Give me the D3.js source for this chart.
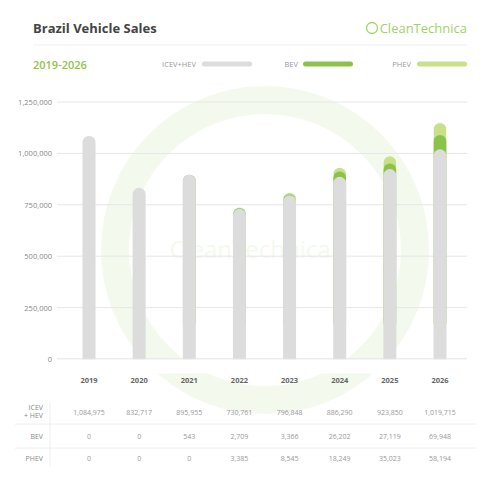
<!DOCTYPE html><html><head><meta charset="utf-8">
<script src="https://cdn.jsdelivr.net/npm/d3@7"></script>
<style>body{margin:0;background:#fff}svg{font-family:"Open Sans",sans-serif}</style></head><body>
<script>
const years=["2019","2020","2021","2022","2023","2024","2025","2026"];
const icev=[1084975,832717,895955,730761,796848,886290,923850,1019715];
const bev=[0,0,543,2709,3366,26202,27119,69948];
const phev=[0,0,0,3385,8545,18249,35023,58194];
const yTicks=[0,250000,500000,750000,1000000,1250000];
const colors={icev:"#dcdcdc",bev:"#8bc34a",phev:"#c8e08a"};
const svg=d3.select("body").append("svg").attr("width",500).attr("height",500);
const wm=svg.append("g").attr("opacity",0.09);
wm.append("circle").attr("cx",265).attr("cy",250).attr("r",150).attr("fill","none").attr("stroke","#8bc34a").attr("stroke-width",28);
wm.append("text").attr("x",250).attr("y",258).attr("text-anchor","middle").attr("font-size",24).attr("fill","#8bc34a").text("CleanTechnica");
svg.append("text").attr("x",33).attr("y",33).attr("font-size",13).attr("font-weight",700).attr("fill","#444").text("Brazil Vehicle Sales");
svg.append("text").attr("x",467).attr("y",33).attr("text-anchor","end").attr("font-size",13).attr("fill","#9fd26a").text("CleanTechnica");
svg.append("circle").attr("cx",372).attr("cy",28).attr("r",5.5).attr("fill","none").attr("stroke","#9fd26a").attr("stroke-width",1.3);
svg.append("line").attr("x1",33).attr("x2",467).attr("y1",45).attr("y2",45).attr("stroke","#eee");
svg.append("text").attr("x",33).attr("y",69).attr("font-size",11).attr("font-weight",600).attr("fill","#8dc63f").text("2019-2026");
const leg=[["ICEV+HEV",196,202,colors.icev],["BEV",298,303,colors.bev],["PHEV",411,417,colors.phev]];
leg.forEach(l=>{svg.append("text").attr("x",l[1]).attr("y",67).attr("text-anchor","end").attr("font-size",7.5).attr("fill","#999").text(l[0]);
svg.append("rect").attr("x",l[2]).attr("y",61.5).attr("width",50).attr("height",5).attr("rx",2.5).attr("fill",l[3]);});
const y=d3.scaleLinear().domain([0,1250000]).range([359,102]);
const x=d3.scalePoint().domain(years).range([89,440]);
const bw=13;
const g=svg.append("g");
g.selectAll(".grid").data(yTicks).join("line").attr("x1",57).attr("x2",467).attr("y1",d=>y(d)).attr("y2",d=>y(d)).attr("stroke","#e6e6e6");
g.selectAll(".yl").data(yTicks).join("text").attr("x",52).attr("y",d=>y(d)+3).attr("text-anchor","end").attr("font-size",7.5).attr("fill","#888").text(d3.format(","));
function bars(total,col,show,w){
 g.selectAll(null).data(years).join("rect").attr("x",d=>x(d)-w/2).attr("width",w).attr("rx",w/2)
  .attr("y",(d,i)=>y(total(i))).attr("height",(d,i)=>Math.max(0,y(0)-y(total(i))-30))
  .attr("fill",col).attr("display",(d,i)=>show(i)?null:"none");
}
bars(i=>icev[i]+bev[i]+phev[i],colors.phev,i=>phev[i]>0,bw-0.6);
bars(i=>icev[i]+bev[i],colors.bev,i=>bev[i]>0,bw-0.3);
g.selectAll(".i").data(years).join("rect").attr("x",d=>x(d)-bw/2).attr("width",bw).attr("rx",bw/2)
 .attr("y",(d,i)=>y(icev[i])).attr("height",(d,i)=>y(0)-y(icev[i])+bw).attr("fill",colors.icev);
svg.append("rect").attr("x",57).attr("y",y(0)+0.5).attr("width",420).attr("height",14).attr("fill","#fff");
g.append("line").attr("x1",57).attr("x2",467).attr("y1",y(0)).attr("y2",y(0)).attr("stroke","#e6e6e6");
svg.selectAll(".xl").data(years).join("text").attr("x",d=>x(d)).attr("y",383).attr("text-anchor","middle").attr("font-size",7.5).attr("font-weight",700).attr("fill","#666").text(d=>d);
const rows=[[["ICEV","+ HEV"],icev,415],[["BEV"],bev,439],[["PHEV"],phev,461]];
rows.forEach(r=>{
 const t=svg.append("text").attr("x",43).attr("text-anchor","end").attr("font-size",7).attr("fill","#888");
 if(r[0].length===2){t.append("tspan").attr("x",43).attr("y",r[2]-5).text(r[0][0]);t.append("tspan").attr("x",43).attr("y",r[2]+3).text(r[0][1]);}
 else t.attr("y",r[2]).text(r[0][0]);
 svg.selectAll(null).data(r[1]).join("text").attr("x",(d,i)=>x(years[i])).attr("y",r[2]).attr("text-anchor","middle").attr("font-size",7).attr("fill","#999").text(d3.format(","));
});
[424,448].forEach(v=>svg.append("line").attr("x1",15).attr("x2",476).attr("y1",v).attr("y2",v).attr("stroke","#eee"));
svg.append("line").attr("x1",50).attr("x2",50).attr("y1",402).attr("y2",466).attr("stroke","#eee");
</script></body></html>
